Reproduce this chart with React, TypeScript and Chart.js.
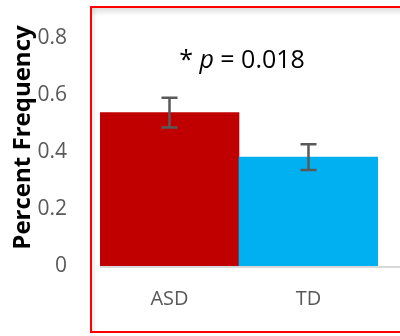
import React, { useEffect, useRef } from "react";
import { Chart, registerables } from "chart.js";

Chart.register(...registerables);

const categories = ["ASD", "TD"];
const means = [0.537, 0.381];
const errors = [0.052, 0.045];
const barColors = ["#C00000", "#00B0F0"];
const yTicks = [0, 0.2, 0.4, 0.6, 0.8];
const yMax = 0.9;
const annotationValue = 0.72;

const FAM = "'Open Sans', sans-serif";

const frameAndExtras = {
  id: "frameAndExtras",
  beforeDraw(chart: any) {
    const { ctx } = chart;
    ctx.save();
    ctx.fillStyle = "#ffffff";
    ctx.fillRect(0, 0, chart.width, chart.height);
    const g = ctx.createLinearGradient(0, 8, 0, 16);
    g.addColorStop(0, "rgba(0,0,0,0.12)");
    g.addColorStop(1, "rgba(0,0,0,0)");
    ctx.fillStyle = g;
    ctx.fillRect(92, 8, chart.width, 8);
    const g2 = ctx.createLinearGradient(92, 0, 97, 0);
    g2.addColorStop(0, "rgba(0,0,0,0.08)");
    g2.addColorStop(1, "rgba(0,0,0,0)");
    ctx.fillStyle = g2;
    ctx.fillRect(92, 8, 5, 323);
    ctx.restore();
  },
  afterDatasetsDraw(chart: any) {
    const { ctx, scales } = chart;
    const y = scales.y;
    const meta = chart.getDatasetMeta(0);
    ctx.save();
    const y0 = y.getPixelForValue(0);
    ctx.strokeStyle = "#d9d9d9";
    ctx.lineWidth = 2;
    ctx.beginPath();
    ctx.moveTo(chart.chartArea.left, y0 + 1);
    ctx.lineTo(chart.width, y0 + 1);
    ctx.stroke();
    ctx.strokeStyle = "#595959";
    ctx.lineWidth = 2.5;
    meta.data.forEach((bar: any, i: number) => {
      const x = bar.x;
      const top = y.getPixelForValue(means[i] + errors[i]);
      const bot = y.getPixelForValue(means[i] - errors[i]);
      ctx.beginPath();
      ctx.moveTo(x, top);
      ctx.lineTo(x, bot);
      ctx.moveTo(x - 8, top);
      ctx.lineTo(x + 8, top);
      ctx.moveTo(x - 8, bot);
      ctx.lineTo(x + 8, bot);
      ctx.stroke();
    });
    const cx = (meta.data[0].x + meta.data[1].x) / 2 + 3;
    const cy = y.getPixelForValue(annotationValue);
    const parts = [
      { t: "* ", f: `25px ${FAM}` },
      { t: "p", f: `italic 25px ${FAM}` },
      { t: " = 0.018", f: `25px ${FAM}` },
    ];
    let total = 0;
    parts.forEach((p) => {
      ctx.font = p.f;
      total += ctx.measureText(p.t).width;
    });
    let x = cx - total / 2;
    ctx.fillStyle = "#000000";
    ctx.textBaseline = "middle";
    ctx.textAlign = "left";
    parts.forEach((p) => {
      ctx.font = p.f;
      ctx.fillText(p.t, x, cy);
      x += ctx.measureText(p.t).width;
    });
    ctx.strokeStyle = "#FF0000";
    ctx.lineWidth = 2;
    ctx.strokeRect(91, 7, chart.width + 10, 325);
    ctx.restore();
  },
};

export default function App() {
  const ref = useRef<HTMLCanvasElement | null>(null);
  useEffect(() => {
    if (!ref.current) return;
    const chart = new Chart(ref.current, {
      type: "bar",
      data: {
        labels: categories,
        datasets: [
          {
            data: means,
            backgroundColor: barColors,
            borderWidth: 0,
            barPercentage: 1,
            categoryPercentage: 1,
          },
        ],
      },
      options: {
        animation: false,
        responsive: false,
        maintainAspectRatio: false,
        layout: { autoPadding: false, padding: { left: 0, top: 9, right: 22, bottom: 0 } },
        plugins: { legend: { display: false }, tooltip: { enabled: false } },
        scales: {
          x: {
            grid: { display: false },
            border: { display: false },
            ticks: {
              color: "#595959",
              padding: 13,
              font: { family: FAM, size: 20 },
            },
            afterFit: (s: any) => {
              s.height = 70;
              s.paddingLeft = 0;
              s.paddingRight = 0;
            },
          },
          y: {
            min: 0,
            max: yMax,
            grid: { display: false },
            border: { display: false },
            afterBuildTicks: (s: any) => {
              s.ticks = yTicks.map((v) => ({ value: v }));
            },
            ticks: {
              color: "#595959",
              padding: 25,
              font: { family: FAM, size: 21 },
              callback: (v: any) => (Number(v) === 0 ? "0" : Number(v).toFixed(1)),
            },
            title: {
              display: true,
              text: "Percent Frequency",
              color: "#000000",
              padding: { top: 9, bottom: 0 },
              font: { family: FAM, size: 24, weight: "bold" },
            },
            afterFit: (s: any) => {
              s.width = 100;
              s.paddingTop = 0;
              s.paddingBottom = 0;
            },
          },
        },
      },
      plugins: [frameAndExtras],
    });
    return () => chart.destroy();
  }, []);
  return (
    <div style={{ position: "fixed", left: 0, top: 0, width: 400, height: 336 }}>
      <canvas ref={ref} width={400} height={336} style={{ width: 400, height: 336 }} />
    </div>
  );
}
